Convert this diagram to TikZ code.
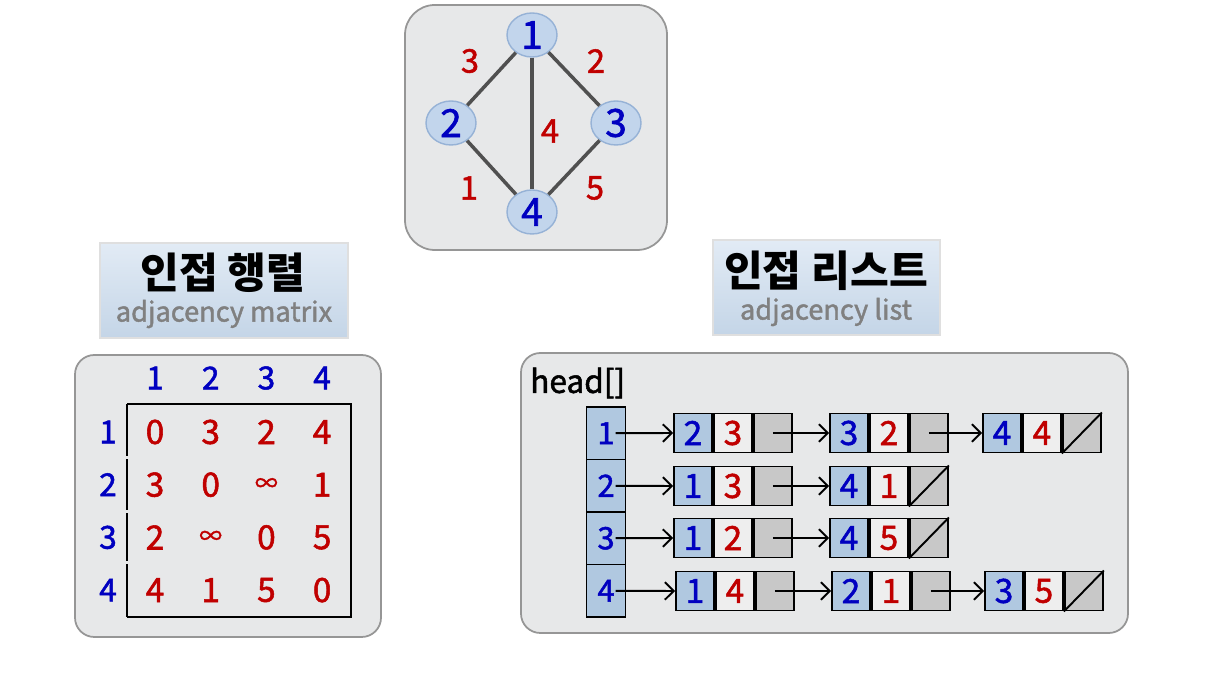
\documentclass[tikz,border=0pt]{standalone}
\usepackage{fontspec}
\setmainfont{Noto Sans CJK KR}
\newfontfamily\heavyfont{Noto Sans CJK KR}[FakeBold=1.6]
\usetikzlibrary{shapes.geometric,positioning,arrows.meta}

\definecolor{numblue}{RGB}{0,0,192}
\definecolor{numred}{RGB}{192,0,0}
\definecolor{panelgray}{RGB}{231,232,233}
\definecolor{paneledge}{RGB}{150,150,150}
\definecolor{cellblue}{RGB}{176,200,224}
\definecolor{cellwhite}{RGB}{238,238,238}
\definecolor{cellgray}{RGB}{200,200,200}
\definecolor{vtxfill}{RGB}{194,213,236}
\definecolor{vtxedge}{RGB}{150,178,214}
\definecolor{edgegray}{RGB}{80,80,80}

\tikzset{
  panel/.style={draw=paneledge, line width=1pt, fill=panelgray},
  titlebox/.style={draw=white!75!gray, line width=0.8pt, top color={rgb,255:red,226;green,235;blue,245}, bottom color={rgb,255:red,196;green,213;blue,231}},
  titlekr/.style={font=\fontsize{24}{24}\selectfont\bfseries},
  titleen/.style={text=gray, font=\heavyfont\fontsize{15.5}{15.5}\selectfont},
  vertex/.style={ellipse, draw=vtxedge, line width=0.8pt, fill=vtxfill, minimum width=1cm, minimum height=0.88cm, inner sep=0pt, text=numblue, font=\heavyfont\fontsize{22}{22}\selectfont},
  edge/.style={draw=edgegray, line width=2pt},
  weight/.style={text=numred, font=\heavyfont\fontsize{18.5}{18.5}\selectfont},
  idx/.style={text=numblue, font=\heavyfont\fontsize{18}{18}\selectfont},
  val/.style={text=numred, font=\heavyfont\fontsize{19}{19}\selectfont},
  cell/.style={draw=black, line width=1.1pt, minimum width=0.76cm, minimum height=0.78cm, inner sep=0pt, font=\heavyfont\fontsize{19}{19}\selectfont},
  vcell/.style={cell, fill=cellblue, text=numblue},
  wcell/.style={cell, fill=cellwhite, text=numred},
  pcell/.style={cell, fill=cellgray},
  headcell/.style={draw=black, line width=1.1pt, fill=cellblue, minimum width=0.78cm, minimum height=1.05cm, inner sep=0pt, text=numblue, font=\heavyfont\fontsize{17.5}{17.5}\selectfont},
  ptr/.style={line width=1.1pt, -{Straight Barb[length=5pt,width=10pt,line width=1.1pt]}},
  nullptr/.style={line width=1.1pt}
}

% one list node: name, x, y of first cell, vertex, weight
\newcommand{\adjnode}[5]{%
  \node[vcell] (#1a) at (#2,#3) {#4};
  \node[wcell, right=0pt of #1a] (#1b) {#5};
  \node[pcell, right=0pt of #1b] (#1c) {};
}
\newcommand{\inft}{{\fontsize{13}{13}\selectfont ∞}}

\begin{document}
\begin{tikzpicture}[x=0.02cm,y=-0.02cm]
\useasboundingbox[fill=white] (0,0) rectangle (1224,678);

% graph
\draw[panel, rounded corners=17pt] (405,5) rectangle (667,250);
\node[vertex] (v1) at (532,35) {1};
\node[vertex] (v2) at (451,123) {2};
\node[vertex] (v3) at (616,123) {3};
\node[vertex] (v4) at (532,212) {4};
\draw[edge] (v1) -- (v2);
\draw[edge] (v1) -- (v3);
\draw[edge] (v1) -- (v4);
\draw[edge] (v2) -- (v4);
\draw[edge] (v3) -- (v4);
\node[weight] (w12) at (470,61) {3};
\node[weight] (w13) at (596,61) {2};
\node[weight] (w14) at (550,131) {4};
\node[weight] (w24) at (469,188) {1};
\node[weight] (w34) at (595,188) {5};

% adjacency matrix
\draw[titlebox] (100,243) rectangle (348,338);
\node[titlekr] (mtitle) at (223,273) {인접 행렬};
\node[titleen] (msub) at (224,314) {adjacency matrix};
\draw[panel, rounded corners=11pt] (75,355) rectangle (381,637);
\foreach \c in {1,...,4}
  \node[idx] (col\c) at ({155+55.7*(\c-1)},378) {\c};
\foreach \r in {1,...,4}
  \node[idx] (row\r) at (108,{432+52.7*(\r-1)}) {\r};
\foreach \row [count=\r] in {{0,3,2,4},{3,0,\inft,1},{2,\inft,0,5},{4,1,5,0}}
  \foreach \v [count=\c] in \row
    \node[val] (m\r\c) at ({155+55.7*(\c-1)},{432+52.7*(\r-1)}) {\v};
\draw[line width=0.7pt] (127,404) -- (351,404) -- (351,617) -- (127,617);
\foreach \a/\b in {404/456.5,459.5/510.5,513.5/561.5,564.5/617}
  \draw[line width=0.7pt] (127,\a) -- (127,\b);

% adjacency list
\draw[titlebox] (713,240) rectangle (940,335);
\node[titlekr] (ltitle) at (826,271) {인접 리스트};
\node[titleen] (lsub) at (826,312) {adjacency list};
\draw[panel, rounded corners=11pt] (521,353) rectangle (1128,633);
\node[anchor=west, font=\heavyfont\fontsize{18}{18}\selectfont] (head) at (524,383) {head[]};
\foreach \i in {1,...,4}
  \node[headcell] (h\i) at (606,{407+52.5*\i-26.25}) {\i};

\adjnode{a11}{693}{433}{2}{3}
\adjnode{a12}{849}{433}{3}{2}
\adjnode{a13}{1002}{433}{4}{4}
\adjnode{a21}{693}{486}{1}{3}
\adjnode{a22}{849}{486}{4}{1}
\adjnode{a31}{693}{538}{1}{2}
\adjnode{a32}{849}{538}{4}{5}
\adjnode{a41}{695}{591}{1}{4}
\adjnode{a42}{851}{591}{2}{1}
\adjnode{a43}{1004}{591}{3}{5}

\foreach \i in {1,...,4}
  \draw[ptr, shorten <=5.5pt] (h\i.center) -- (a\i1a.west);
\draw[ptr] (a11c.center) -- (a12a.west);
\draw[ptr] (a12c.center) -- (a13a.west);
\draw[ptr] (a21c.center) -- (a22a.west);
\draw[ptr] (a31c.center) -- (a32a.west);
\draw[ptr] (a41c.center) -- (a42a.west);
\draw[ptr] (a42c.center) -- (a43a.west);
\foreach \n in {a13,a22,a32,a43}
  \draw[nullptr] (\n c.south west) -- (\n c.north east);
\end{tikzpicture}
\end{document}
